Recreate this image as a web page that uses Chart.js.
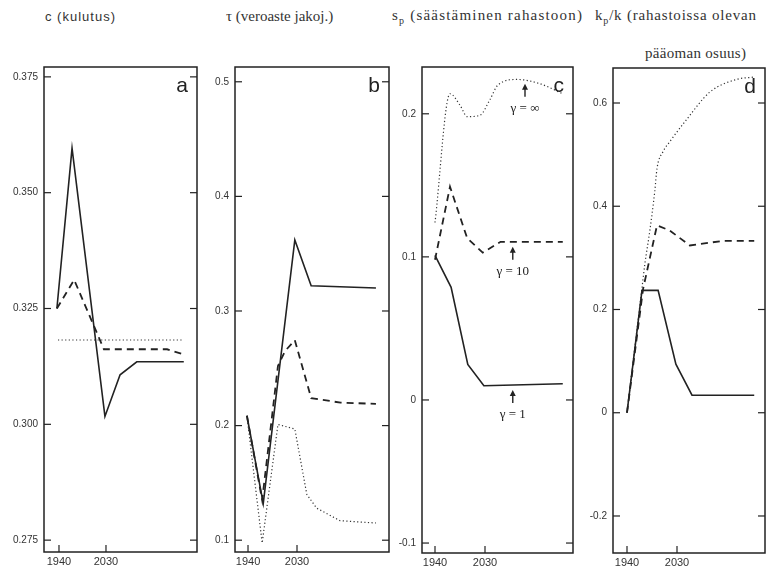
<!DOCTYPE html>
<html>
<head>
<meta charset="utf-8">
<script src="https://cdn.jsdelivr.net/npm/chart.js@4.4.1/dist/chart.umd.min.js"></script>
<style>
  body { margin: 0; background: #fff; }
  #wrap { position: relative; width: 773px; height: 575px; overflow: hidden; background: #fff; }
  canvas { position: absolute; }
  .title { position: absolute; font-family: 'Liberation Serif', serif; font-size: 15px; color: #333; white-space: nowrap; }
  .title sub { font-size: 10px; }
</style>
</head>
<body>
<div id="wrap">
  <div class="title" style="left:45px;top:9px;font-family:'Liberation Sans',sans-serif;font-size:13px;letter-spacing:1px">c (kulutus)</div>
  <div class="title" style="left:226px;top:8px">τ (veroaste jakoj.)</div>
  <div class="title" style="left:392px;top:7px;letter-spacing:1.2px">s<sub>p</sub> (säästäminen rahastoon)</div>
  <div class="title" style="left:595px;top:7px;letter-spacing:0.8px">k<sub>p</sub>/k (rahastoissa olevan</div>
  <div class="title" style="left:645px;top:45px;letter-spacing:0.3px">pääoman osuus)</div>
  <canvas id="pa" width="205" height="520" style="left:0;top:55px"></canvas>
  <canvas id="pb" width="185" height="520" style="left:205px;top:55px"></canvas>
  <canvas id="pc" width="190" height="520" style="left:390px;top:55px"></canvas>
  <canvas id="pd" width="193" height="520" style="left:580px;top:55px"></canvas>
</div>
<script>
// x ticks shared by all panels
const xTicks = [1940, 2030];
const xTickLabels = ['1940', '2030'];

// panel a: c (kulutus)
const aTicks = [0.275, 0.3, 0.325, 0.35, 0.375];
const aTickLabels = ['0.275', '0.300', '0.325', '0.350', '0.375'];
const aSolidYears = [1936, 1965, 2028, 2057, 2089, 2179];
const aSolid = [0.325, 0.3596, 0.3017, 0.3107, 0.3135, 0.3135];
const aDashYears = [1936, 1969, 2026, 2147, 2179];
const aDash = [0.325, 0.3312, 0.3162, 0.3162, 0.3151];
const aDotYears = [1938, 2179];
const aDot = [0.3182, 0.3182];

// panel b: tau (veroaste jakoj.)
const bTicks = [0.1, 0.2, 0.3, 0.4, 0.5];
const bTickLabels = ['0.1', '0.2', '0.3', '0.4', '0.5'];
const bSolidYears = [1938, 1968, 2026, 2056, 2175];
const bSolid = [0.2086, 0.132, 0.362, 0.322, 0.32];
const bDashYears = [1938, 1966, 1995, 2008, 2026, 2056, 2110, 2175];
const bDash = [0.2086, 0.135, 0.252, 0.265, 0.2746, 0.224, 0.22, 0.219];
const bDotYears = [1938, 1966, 1995, 2026, 2048, 2066, 2109, 2175];
const bDot = [0.2086, 0.0975, 0.201, 0.197, 0.14, 0.128, 0.117, 0.115];

// panel c: s_p (saastaminen rahastoon)
const cTicks = [-0.1, 0, 0.1, 0.2];
const cTickLabels = ['-0.1', '0', '0.1', '0.2'];
const cSolidYears = [1940, 1969, 1999, 2028, 2170];
const cSolid = [0.101, 0.0787, 0.0248, 0.0099, 0.0113];
const cDashYears = [1940, 1967, 1998, 2026, 2058, 2170];
const cDash = [0.098, 0.149, 0.113, 0.103, 0.1105, 0.1105];
const cDotYears = [1940, 1967, 1985, 1998, 2021, 2039, 2053, 2088, 2129, 2170];
const cDot = [0.124, 0.214, 0.206, 0.198, 0.199, 0.21, 0.22, 0.224, 0.221, 0.214];
const cNoteYears = [2102, 2080, 2080];
const cNoteValues = [0.221, 0.107, 0.007];
const cNoteLabels = ['γ = ∞', 'γ = 10', 'γ = 1'];

// panel d: k_p/k (rahastoissa olevan paaoman osuus)
const dTicks = [-0.2, 0, 0.2, 0.4, 0.6];
const dTickLabels = ['-0.2', '0', '0.2', '0.4', '0.6'];
const dSolidYears = [1940, 1967, 1996, 2028, 2057, 2169];
const dSolid = [0, 0.237, 0.237, 0.094, 0.034, 0.034];
const dDashYears = [1940, 1969, 1994, 2017, 2053, 2113, 2169];
const dDash = [0, 0.24, 0.363, 0.353, 0.324, 0.333, 0.333];
const dDotYears = [1940, 1967, 1972, 1981, 1990, 1994, 2005, 2017, 2048, 2089, 2138, 2167];
const dDot = [0, 0.242, 0.287, 0.352, 0.429, 0.473, 0.506, 0.525, 0.569, 0.621, 0.646, 0.65];

const ink = '#222';

const pts = (years, values) => years.map((x, i) => ({ x, y: values[i] }));

const panelDecor = {
  id: 'panelDecor',
  afterDraw(chart, args, opts) {
    const {
      ctx,
      chartArea: { left, top, right, bottom },
      scales: { x, y },
    } = chart;
    const line = (x1, y1, x2, y2) => {
      ctx.beginPath();
      ctx.moveTo(x1, y1);
      ctx.lineTo(x2, y2);
      ctx.stroke();
    };
    ctx.save();
    ctx.strokeStyle = ink;
    ctx.fillStyle = ink;
    ctx.lineWidth = 1.5;
    ctx.strokeRect(left, top, right - left, bottom - top);
    ctx.lineWidth = 1.2;
    y.ticks.forEach((t) => {
      const py = y.getPixelForValue(t.value);
      line(left, py, left + 7, py);
      line(right - 7, py, right, py);
    });
    x.ticks.forEach((t) => {
      const px = x.getPixelForValue(t.value);
      line(px, bottom, px, bottom - 7);
    });
    ctx.font = '21px "Liberation Sans"';
    ctx.textAlign = 'right';
    ctx.fillText(opts.letter, right - 9, top + 25);

    const notes = opts.notes || { years: [], values: [], labels: [] };
    ctx.font = '13px "Liberation Serif"';
    ctx.textAlign = 'center';
    ctx.textBaseline = 'middle';
    notes.years.forEach((yr, i) => {
      const px = x.getPixelForValue(yr);
      const py = y.getPixelForValue(notes.values[i]);
      ctx.lineWidth = 1.4;
      line(px, py + 13, px, py + 3);
      ctx.beginPath();
      ctx.moveTo(px, py);
      ctx.lineTo(px - 3, py + 6);
      ctx.lineTo(px + 3, py + 6);
      ctx.closePath();
      ctx.fill();
      ctx.fillText(notes.labels[i], px, py + 25);
    });
    ctx.restore();
  },
};

function makePanel(id, cfg) {
  new Chart(document.getElementById(id), {
    type: 'line',
    data: {
      datasets: [
        {
          data: pts(cfg.solidYears, cfg.solid),
          borderColor: ink,
          borderWidth: 1.6,
        },
        {
          data: pts(cfg.dashYears, cfg.dash),
          borderColor: ink,
          borderWidth: 1.8,
          borderDash: [7, 5],
        },
        {
          data: pts(cfg.dotYears, cfg.dot),
          borderColor: '#333',
          borderWidth: 1.2,
          borderDash: [1.2, 2.4],
          cubicInterpolationMode: cfg.smoothDot ? 'monotone' : 'default',
        },
      ],
    },
    options: {
      responsive: false,
      animation: false,
      layout: {
        padding: { top: cfg.padTop, right: cfg.padRight, left: 0, bottom: 0 },
      },
      elements: { point: { radius: 0 }, line: { tension: 0 } },
      scales: {
        x: {
          type: 'linear',
          min: cfg.xMin,
          max: cfg.xMax,
          grid: { display: false, drawTicks: false },
          border: { display: false },
          afterBuildTicks: (scale) => {
            scale.ticks = xTicks.map((v) => ({ value: v }));
          },
          afterFit: (scale) => {
            scale.height = cfg.xHeight;
          },
          ticks: {
            autoSkip: false,
            maxRotation: 0,
            padding: 3,
            color: '#333',
            font: { family: 'Liberation Sans', size: 11 },
            callback: (value, index) => xTickLabels[index],
          },
        },
        y: {
          min: cfg.yMin,
          max: cfg.yMax,
          grid: { display: false, drawTicks: false },
          border: { display: false },
          afterBuildTicks: (scale) => {
            scale.ticks = cfg.ticks.map((v) => ({ value: v }));
          },
          afterFit: (scale) => {
            scale.width = cfg.yWidth;
          },
          ticks: {
            autoSkip: false,
            padding: 6,
            color: '#333',
            font: { family: 'Liberation Sans', size: 10 },
            callback: (value, index) => cfg.tickLabels[index],
          },
        },
      },
      plugins: {
        legend: { display: false },
        tooltip: { enabled: false },
        panelDecor: { letter: cfg.letter, notes: cfg.notes },
      },
      events: [],
    },
    plugins: [panelDecor],
  });
}

makePanel('pa', {
  letter: 'a',
  solidYears: aSolidYears, solid: aSolid,
  dashYears: aDashYears, dash: aDash,
  dotYears: aDotYears, dot: aDot,
  ticks: aTicks, tickLabels: aTickLabels,
  xMin: 1911.3, xMax: 2204.3, yMin: 0.27244, yMax: 0.37713,
  yWidth: 44, xHeight: 23, padTop: 6, padRight: 8,
});

makePanel('pb', {
  letter: 'b',
  solidYears: bSolidYears, solid: bSolid,
  dashYears: bDashYears, dash: bDash,
  dotYears: bDotYears, dot: bDot,
  ticks: bTicks, tickLabels: bTickLabels,
  xMin: 1916.1, xMax: 2199, yMin: 0.0897, yMax: 0.5129,
  yWidth: 30, xHeight: 23, padTop: 6, padRight: 1,
});

makePanel('pc', {
  letter: 'c',
  solidYears: cSolidYears, solid: cSolid,
  dashYears: cDashYears, dash: cDash,
  dotYears: cDotYears, dot: cDot,
  smoothDot: true,
  ticks: cTicks, tickLabels: cTickLabels,
  notes: { years: cNoteYears, values: cNoteValues, labels: cNoteLabels },
  xMin: 1916.6, xMax: 2188.4, yMin: -0.10696, yMax: 0.2327,
  yWidth: 32, xHeight: 22, padTop: 10, padRight: 7,
});

makePanel('pd', {
  letter: 'd',
  solidYears: dSolidYears, solid: dSolid,
  dashYears: dDashYears, dash: dDash,
  dotYears: dDotYears, dot: dDot,
  smoothDot: true,
  ticks: dTicks, tickLabels: dTickLabels,
  xMin: 1914.8, xMax: 2188.4, yMin: -0.2717, yMax: 0.6678,
  yWidth: 33, xHeight: 22, padTop: 13, padRight: 8,
});
</script>
</body>
</html>
